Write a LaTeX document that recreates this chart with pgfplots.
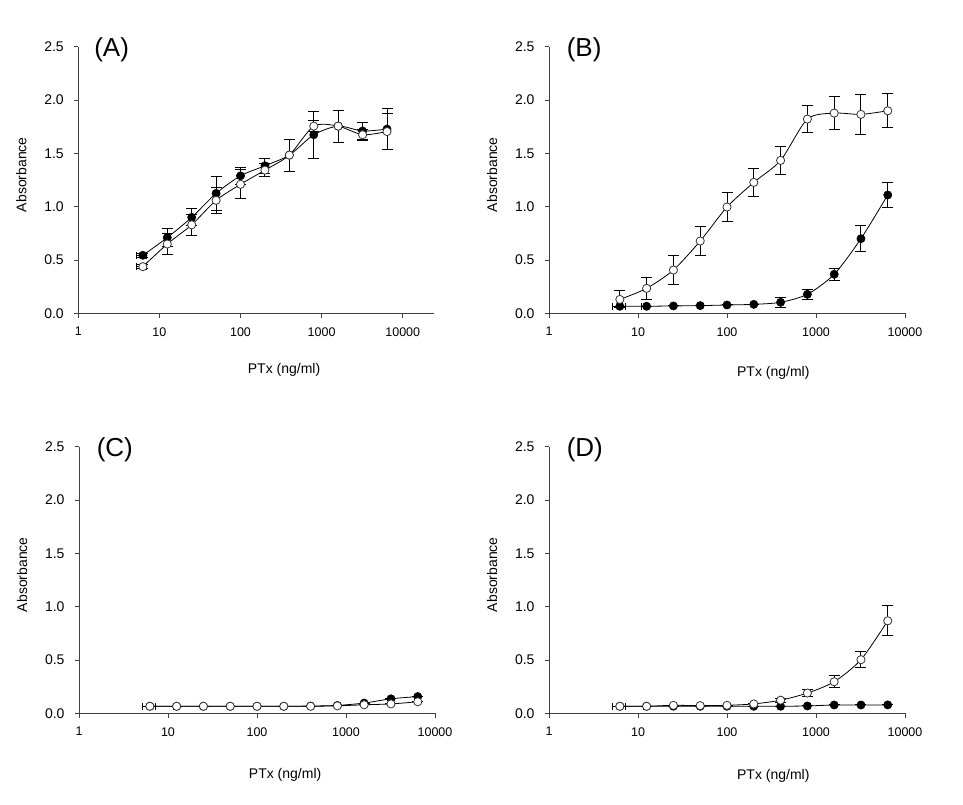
\documentclass[border=0pt]{standalone}
\usepackage{pgfplots}
\usepackage{pgfplotstable}
\pgfplotsset{compat=1.18}
\usepackage{fontspec}
\setmainfont{Liberation Sans}

% Panel A
\pgfplotstableread{
x y ey
6.25 0.544 0.02
12.5 0.71 0.085
25 0.90 0.08
50 1.125 0.16
100 1.29 0.08
200 1.384 0.07
400 1.484 0.15
800 1.675 0.22
1600 1.756 0.15
3200 1.71 0.08
6400 1.728 0.19
}\Afill
\pgfplotstableread{
x y ey
6.25 0.4375 0.02
12.5 0.65 0.10
25 0.83 0.10
50 1.06 0.12
100 1.21 0.135
200 1.343 0.06
400 1.484 0.15
800 1.756 0.05
1600 1.756 0.15
3200 1.675 0.05
6400 1.705 0.17
}\Aopen
% Panel B
\pgfplotstableread{
x y ey
6.25 0.066 0.0
12.5 0.066 0.0
25 0.069 0.0
50 0.072 0.0
100 0.078 0.0
200 0.084 0.0
400 0.103 0.047
800 0.178 0.047
1600 0.366 0.055
3200 0.70 0.12
6400 1.11 0.115
}\Bfill
\pgfplotstableread{
x y ey
6.25 0.13 0.08
12.5 0.234 0.10
25 0.406 0.14
50 0.678 0.14
100 0.997 0.14
200 1.228 0.13
400 1.434 0.13
800 1.822 0.13
1600 1.878 0.155
3200 1.866 0.19
6400 1.90 0.16
}\Bopen
% Panel C
\pgfplotstableread{
x y ey
6.25 0.066 0.0
12.5 0.066 0.0
25 0.066 0.0
50 0.066 0.0
100 0.066 0.0
200 0.066 0.0
400 0.068 0.0
800 0.074 0.0
1600 0.096 0.0
3200 0.136 0.0
6400 0.157 0.0
}\Cfill
\pgfplotstableread{
x y ey
6.25 0.066 0.0
12.5 0.066 0.0
25 0.066 0.0
50 0.066 0.0
100 0.066 0.0
200 0.066 0.0
400 0.066 0.0
800 0.070 0.0
1600 0.080 0.0
3200 0.088 0.0
6400 0.108 0.0
}\Copen
% Panel D
\pgfplotstableread{
x y ey
6.25 0.066 0.0
12.5 0.066 0.0
25 0.066 0.0
50 0.066 0.0
100 0.066 0.0
200 0.066 0.0
400 0.066 0.0
800 0.069 0.0
1600 0.078 0.0
3200 0.078 0.0
6400 0.079 0.0
}\Dfill
\pgfplotstableread{
x y ey
6.25 0.066 0.0
12.5 0.066 0.0
25 0.075 0.0
50 0.072 0.0
100 0.075 0.0
200 0.088 0.0
400 0.123 0.02
800 0.19 0.035
1600 0.296 0.055
3200 0.503 0.075
6400 0.868 0.14
}\Dopen

\pgfplotsset{
  every axis/.append style={
    scale only axis, width=356pt, height=266.5pt,
    xmode=log, xmin=1, xmax=10000, ymin=0, ymax=2.5,
    clip=false,
    axis lines=left,
    axis line style={-, line width=0.7pt, black!75},
    xtick={1,10,100,1000,10000},
    xticklabels={1,10,100,1000,10000},
    xminorticks=false,
    ytick={0,0.5,1,1.5,2,2.5},
    yticklabel={\pgfmathprintnumber[fixed,fixed zerofill,precision=1,assume math mode=true]{\tick}},
    tick align=outside,
    major tick length=4.5pt,
    tick style={line width=0.7pt, black!75},
    x tick label style={font=\fontsize{12.5}{14}\selectfont, yshift=-6pt},
    y tick label style={font=\fontsize{14}{16}\selectfont, xshift=-6.5pt},
    xlabel={PTx (ng/ml)},
    ylabel={Absorbance},
  },
  every axis y label/.style={at={(axis description cs:-0.16,0.52)}, rotate=90, anchor=center,
    font=\fontsize{14}{16}\selectfont},
  /pgfplots/myeb/.style={
    /pgfplots/error bars/y dir=both,
    /pgfplots/error bars/y explicit,
    /pgfplots/error bars/error bar style={line width=1pt, black},
    /pgfplots/error bars/error mark options={rotate=90, line width=1pt, black, mark size=5.5pt}},
  /pgfplots/myebx/.style={draw=none, mark=none, forget plot,
    /pgfplots/error bars/x dir=both,
    /pgfplots/error bars/x explicit,
    /pgfplots/error bars/error bar style={line width=1pt, black},
    /pgfplots/error bars/error mark options={rotate=90, line width=1pt, black, mark size=3.5pt}},
  /pgfplots/myfill/.style={black, line width=0.8pt, smooth, tension=0.45, mark=*, mark size=4.1pt,
    mark options={fill=black, draw=black, line width=0.6pt}},
  /pgfplots/myopen/.style={black, line width=0.8pt, smooth, tension=0.45, mark=*, mark size=4.1pt,
    mark options={fill=white, draw=black!80, line width=0.8pt}},
}

\begin{document}
\begin{tikzpicture}
\path[use as bounding box] (0,0) rectangle (963pt,804pt);

% (A)
\begin{axis}[at={(78.3pt,490.7pt)}, anchor=south west, xmax=24500,
  every axis x label/.style={at={(axis description cs:0.578,-0.2128)}, anchor=center, font=\fontsize{14}{16}\selectfont}]
\addplot[myebx] coordinates {(6.25,0.544) += (0.65,0) -= (1.05,0) (6.25,0.4375) += (0.65,0) -= (1.05,0)};
\addplot[myfill, myeb] table[x=x, y=y, y error=ey] {\Afill};
\addplot[myopen, myeb] table[x=x, y=y, y error=ey] {\Aopen};
\node[anchor=west, font=\fontsize{26}{30}\selectfont] at (rel axis cs:0.035,0.99) {(A)};
\end{axis}

% (B)
\begin{axis}[at={(549pt,490.7pt)}, anchor=south west,
  every axis x label/.style={at={(axis description cs:0.63,-0.225)}, anchor=center, font=\fontsize{14}{16}\selectfont}]
\addplot[myebx] coordinates {(6.25,0.066) += (0.9,0) -= (1.1,0) (12.5,0.066) += (0,0) -= (1.6,0)};
\addplot[myfill, myeb] table[x=x, y=y, y error=ey] {\Bfill};
\addplot[myopen, myeb] table[x=x, y=y, y error=ey] {\Bopen};
\node[anchor=west, font=\fontsize{26}{30}\selectfont] at (rel axis cs:0.04,0.99) {(B)};
\end{axis}

% (C)
\begin{axis}[at={(79pt,90.7pt)}, anchor=south west,
  every axis x label/.style={at={(axis description cs:0.579,-0.23)}, anchor=center, font=\fontsize{14}{16}\selectfont}]
\addplot[myebx] coordinates {(6.25,0.066) += (1.0,0) -= (1.1,0) (12.5,0.066) += (0,0) -= (1.0,0)};
\addplot[myfill, myeb] table[x=x, y=y, y error=ey] {\Cfill};
\addplot[myopen, myeb] table[x=x, y=y, y error=ey] {\Copen};
\node[anchor=west, font=\fontsize{26}{30}\selectfont] at (rel axis cs:0.04,0.99) {(C)};
\end{axis}

% (D)
\begin{axis}[at={(549pt,90.7pt)}, anchor=south west,
  every axis x label/.style={at={(axis description cs:0.63,-0.235)}, anchor=center, font=\fontsize{14}{16}\selectfont}]
\addplot[myebx] coordinates {(6.25,0.066) += (0.9,0) -= (1.1,0) (12.5,0.066) += (0,0) -= (1.0,0)};
\addplot[myfill, myeb] table[x=x, y=y, y error=ey] {\Dfill};
\addplot[myopen, myeb] table[x=x, y=y, y error=ey] {\Dopen};
\node[anchor=west, font=\fontsize{26}{30}\selectfont] at (rel axis cs:0.04,0.99) {(D)};
\end{axis}
\end{tikzpicture}
\end{document}
